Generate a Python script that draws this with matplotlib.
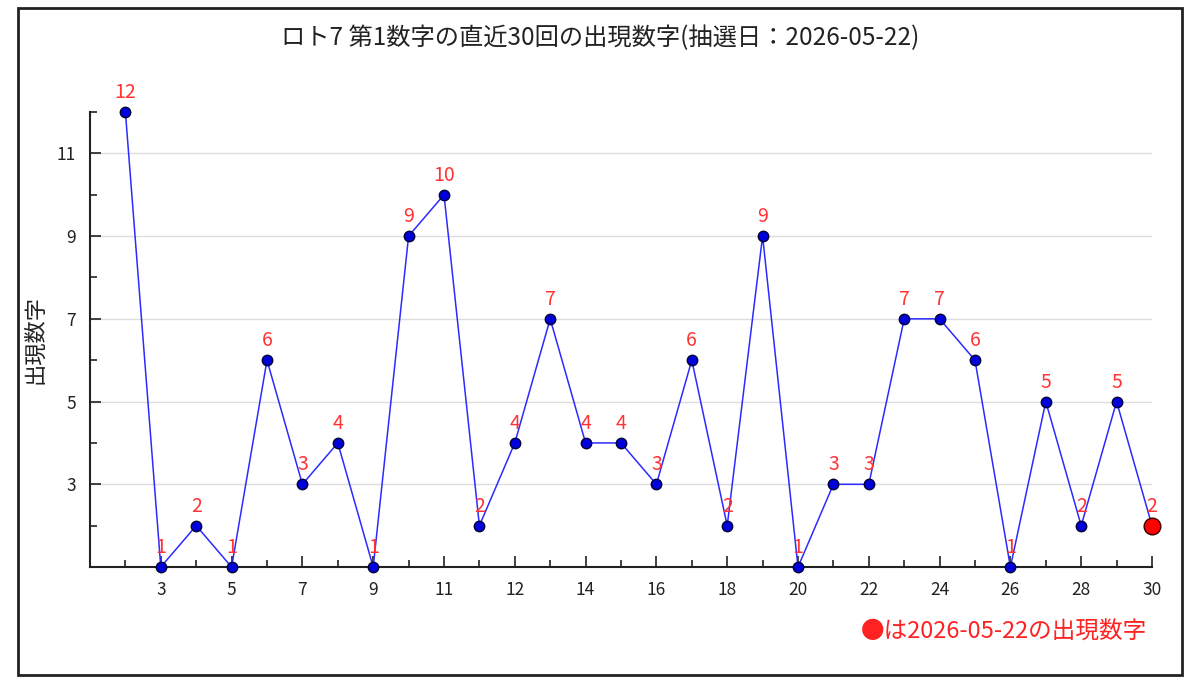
import matplotlib
matplotlib.use("Agg")
import matplotlib.pyplot as plt
from matplotlib.patches import Rectangle

plt.rcParams['font.family'] = ['Noto Sans CJK JP', 'DejaVu Sans']

# draw order 1..30 (oldest to newest)
draws = list(range(1, 31))
numbers = [12, 1, 2, 1, 6, 3, 4, 1, 9, 10, 2, 4, 7, 4, 4, 3, 6, 2, 9, 1,
           3, 3, 7, 7, 6, 1, 5, 2, 5, 2]
tick_pos = [2, 4, 6, 8, 10, 12, 14, 16, 18, 20, 22, 24, 26, 28, 30]
tick_labels = ["3", "5", "7", "9", "11", "12", "14", "16", "18", "20",
               "22", "24", "26", "28", "30"]
y_ticks = [3, 5, 7, 9, 11]
title = "ロト7 第1数字の直近30回の出現数字(抽選日：2026-05-22)"
note = "●は2026-05-22の出現数字"

fig = plt.figure(figsize=(12, 6.91), dpi=100)
ax = fig.add_axes([0.075, 0.1794, 0.885, 0.6585])

# outer frame
fig.patches.append(Rectangle((0.015, 0.023), 0.97, 0.965, transform=fig.transFigure,
                             fill=False, edgecolor="#222222", linewidth=2))

ax.plot(draws[:-1], numbers[:-1], color="#2b2bff", linewidth=1.1,
        marker="o", markersize=7.5, markerfacecolor="#0000dd",
        markeredgecolor="#000033", markeredgewidth=1, zorder=3, clip_on=False)
ax.plot(draws[-2:], numbers[-2:], color="#2b2bff", linewidth=1.1, zorder=2,
        clip_on=False)
ax.plot(draws[-1], numbers[-1], marker="o", markersize=12, color="#ff0000",
        markeredgecolor="#330000", markeredgewidth=1, zorder=4, clip_on=False)

for x, y in zip(draws, numbers):
    ax.annotate(str(y), (x, y), xytext=(0, 14), textcoords="offset points",
                ha="center", va="center", color="#ff3333", fontsize=14)

ax.set_xlim(0, 30)
ax.set_ylim(1, 12)
ax.set_xticks(tick_pos)
ax.set_xticklabels(tick_labels)
ax.set_xticks([p for p in range(1, 30, 2)], minor=True)
ax.set_yticks(y_ticks)
ax.set_yticks([2, 4, 6, 8, 10, 12], minor=True)
ax.tick_params(axis="both", which="major", direction="in", length=8, width=1.2,
               labelsize=12.5, colors="#222222", pad=10)
ax.tick_params(axis="both", which="minor", direction="in", length=5, width=1.2,
               colors="#222222")
ax.grid(axis="y", which="major", color="#dddddd", linewidth=1)
ax.set_axisbelow(True)
for s in ["top", "right"]:
    ax.spines[s].set_visible(False)
for s in ["left", "bottom"]:
    ax.spines[s].set_linewidth(1.5)
    ax.spines[s].set_color("#222222")

ax.set_ylabel("出現数字", fontsize=16, color="#222222", labelpad=8)
fig.text(0.5, 0.945, title, ha="center", va="center", fontsize=17.5, color="#222222")
fig.text(0.956, 0.085, note, ha="right", va="center", fontsize=17, color="#ff2222")

fig.savefig("out.png", dpi=100, facecolor="white")
